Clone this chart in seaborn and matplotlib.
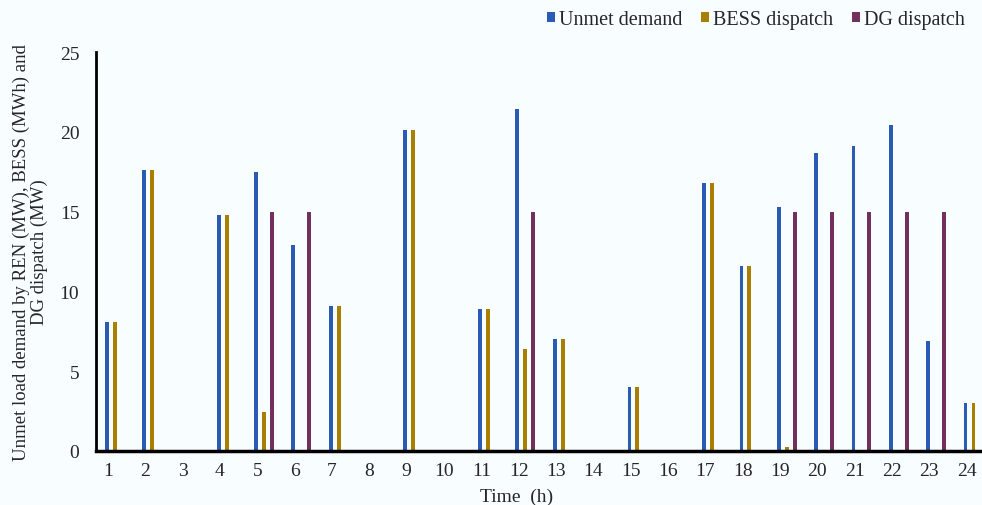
import numpy as np
import pandas as pd
import matplotlib
matplotlib.use('Agg')
import matplotlib.pyplot as plt
import seaborn as sns

# data
hours = [str(h) for h in range(1, 25)]
unmet = [8.1, 17.6, 0, 14.8, 17.5, 12.9, 9.1, 0, 20.1, 0, 8.9, 21.4,
         7.0, 0, 4.0, 0, 16.8, 11.6, 15.3, 18.7, 19.1, 20.4, 6.9, 3.0]
bess = [8.1, 17.6, 0, 14.8, 2.45, 0, 9.1, 0, 20.1, 0, 8.9, 6.4,
        7.0, 0, 4.0, 0, 16.8, 11.6, 0.25, 0, 0, 0, 0, 3.0]
dg = [0, 0, 0, 0, 15, 15, 0, 0, 0, 0, 0, 15,
      0, 0, 0, 0, 0, 0, 15, 15, 15, 15, 15, 0]
series = ['Unmet demand', 'BESS dispatch', 'DG dispatch']
colors = ['#2A5BB5', '#A87F00', '#72305C']

df = pd.DataFrame({'Time': hours * 3,
                   'value': unmet + bess + dg,
                   'series': np.repeat(series, len(hours))})

sns.set_style('white')
plt.rcParams['font.family'] = ['Liberation Serif', 'DejaVu Serif']
bg = '#F8FDFF'

fig = plt.figure(figsize=(9.82, 5.06), dpi=100, facecolor=bg)
ax = fig.add_axes([96 / 982, 54 / 506, 886 / 982, 399 / 506], facecolor=bg)

sns.barplot(data=df, x='Time', y='value', hue='series', palette=colors,
            width=0.64, gap=0.52, ax=ax, saturation=1, legend=True,
            linewidth=0)

ax.set_xlim(-0.5, 23.23)
ax.set_ylim(0, 25)
ax.set_yticks([0, 5, 10, 15, 20, 25])
ax.tick_params(axis='y', direction='in', length=5, width=2, labelsize=14, pad=12)
ax.set_xticks(np.arange(24) - 0.18)
ax.set_xticklabels(hours)
ax.tick_params(axis='x', length=0, labelsize=14, pad=8)

sns.despine(ax=ax)
ax.spines['left'].set_linewidth(2)
ax.spines['bottom'].set_linewidth(2.5)
ax.spines['left'].set_color('black')
ax.spines['bottom'].set_color('black')

ax.set_ylabel('Unmet load demand by REN (MW), BESS (MWh) and\nDG dispatch (MW)',
              fontsize=13.5, linespacing=1.1)
ax.yaxis.set_label_coords(-0.054, 0.5)
ax.set_xlabel('Time  (h)', fontsize=14)
ax.xaxis.set_label_coords(0.475, -0.092)

ax.legend(loc='upper right', bbox_to_anchor=(0.99, 1.125), ncol=3, frameon=False,
          fontsize=14.5, handlelength=0.42, handleheight=0.42, handletextpad=0.2,
          columnspacing=0.9, borderaxespad=0)

fig.savefig('out.png', dpi=100, facecolor=bg)
